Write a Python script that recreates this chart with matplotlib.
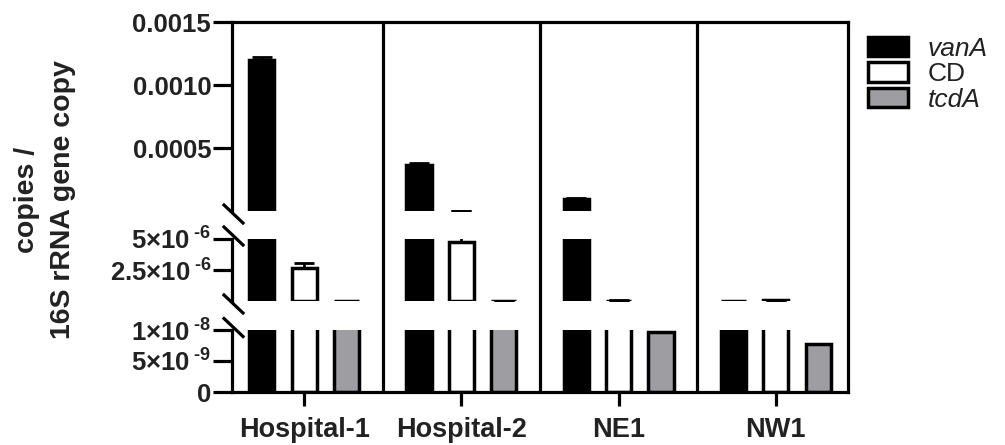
import matplotlib
matplotlib.use('Agg')
import matplotlib.pyplot as plt
from matplotlib.patches import Patch
from matplotlib.lines import Line2D
import numpy as np

# ---------------- data ----------------
groups = ['Hospital-1', 'Hospital-2', 'NE1', 'NW1']
series = ['vanA', 'CD', 'tcdA']
vanA = [1.20e-3, 3.66e-4, 1.0e-4, 2.0e-8]
vanA_err = [2.2e-5, 2.0e-5, 5e-6, 0.0]
CD = [2.65e-6, 4.75e-6, 5.0e-8, 6.0e-8]
CD_err = [4.5e-7, 4.5e-7, 2.5e-8, 3.5e-8]
tcdA = [2.0e-8, 2.0e-8, 9.6e-9, 7.7e-9]
tcdA_err = [0.0, 1.0e-8, 0.0, 0.0]

# y segments (bottom -> top): limits, ticks, tick labels
seg_limits = [(0, 1e-8), (1e-8, 5e-6), (5e-6, 1.5e-3)]
seg_ticks = [[0, 5e-9, 1e-8], [2.5e-6, 5e-6], [5e-4, 1e-3, 1.5e-3]]
seg_ticklabels = [['0', r'$5×10^{\;\text{-9}}$', r'$1×10^{\;\text{-8}}$'],
                  [r'$2.5×10^{\;\text{-6}}$', r'$5×10^{\;\text{-6}}$'],
                  ['0.0005', '0.0010', '0.0015']]

# ---------------- style ----------------
plt.rcParams['font.family'] = ['Liberation Sans', 'DejaVu Sans']
plt.rcParams['mathtext.fontset'] = 'custom'
plt.rcParams['mathtext.rm'] = 'Liberation Sans:bold'
plt.rcParams['mathtext.it'] = 'Liberation Sans:bold:italic'
plt.rcParams['mathtext.bf'] = 'Liberation Sans:bold'

colors = ['#000000', '#ffffff', '#9e9ea2']
values = [vanA, CD, tcdA]
errors = [vanA_err, CD_err, tcdA_err]
txtcol = '#222222'
LW = 2.3

W, H = 1005, 445
fig = plt.figure(figsize=(W / 100, H / 100), dpi=100)


def fx(px):
    return px / W


def fy(py):
    return 1 - py / H


left_px, right_px = 232, 848
seg_px = [(330, 392), (239, 301), (22, 211)]  # (top, bottom) pixel rows
xlim = (-0.46, 3.46)
x = np.arange(len(groups))
offsets = [-0.27, 0.0, 0.27]
bw = 0.16

# background frame
axf = fig.add_axes([fx(left_px), fy(392), fx(right_px) - fx(left_px), fy(22) - fy(392)])
axf.set_xlim(*xlim)
axf.set_ylim(0, 1)
axf.patch.set_facecolor('none')
for s in ['left', 'bottom']:
    axf.spines[s].set_visible(False)
for s in ['top', 'right']:
    axf.spines[s].set_linewidth(LW)
axf.set_xticks([])
axf.set_yticks([])
for sep in [0.5, 1.5, 2.5]:
    axf.axvline(sep, color='black', lw=LW)

axes = []
for i, (lim, ticks, tl, (ptop, pbot)) in enumerate(zip(seg_limits, seg_ticks, seg_ticklabels, seg_px)):
    ax = fig.add_axes([fx(left_px), fy(pbot), fx(right_px) - fx(left_px), fy(ptop) - fy(pbot)])
    ax.patch.set_facecolor('none')
    ax.set_xlim(*xlim)
    ax.set_ylim(*lim)
    for s in ['top', 'right']:
        ax.spines[s].set_visible(False)
    ax.spines['left'].set_linewidth(LW)
    ax.spines['bottom'].set_linewidth(LW)
    if i != 0:
        ax.spines['bottom'].set_visible(False)
    for k in range(3):
        v = np.array(values[k])
        e = np.array(errors[k])
        xs = x + offsets[k]
        show = v > lim[0]
        if show.any():
            ax.bar(xs[show], v[show], width=bw, color=colors[k],
                   edgecolor='black', linewidth=2.5, zorder=2)
        m = (e > 0) & (v + e > lim[0])
        if m.any():
            ax.errorbar(xs[m], v[m], yerr=[np.zeros(m.sum()), e[m]],
                        fmt='none', ecolor='black', elinewidth=2, capsize=7,
                        capthick=2, zorder=3)
    ax.set_yticks(ticks)
    ax.set_yticklabels(tl, fontsize=18.5, fontweight='bold', color=txtcol)
    ax.tick_params(axis='y', length=13.5, width=LW, pad=1.5, direction='out')
    if i == 0:
        ax.set_xticks(x)
        ax.set_xticklabels(groups, fontsize=19.5, fontweight='bold', color=txtcol)
        ax.tick_params(axis='x', length=10, width=LW, pad=8, direction='out')
    else:
        ax.set_xticks([])
    axes.append(ax)

# break marks on the y axis
def slash(cy):
    fig.add_artist(Line2D([fx(left_px + 1.5 - 9.5), fx(left_px + 1.5 + 9.5)],
                          [fy(cy - 9), fy(cy + 9)], color='black', lw=LW))

slash(214)
slash(236)
slash(304)
slash(327.5)

# y label
fig.text(fx(45), fy(200), 'copies /\n16S rRNA gene copy', rotation=90,
         ha='center', va='center', fontsize=20.5, fontweight='bold',
         color=txtcol, linespacing=1.45, multialignment='center')

# legend
handles = [Patch(facecolor=c, edgecolor='black', linewidth=2.5) for c in colors]
leg = fig.legend(handles, series, loc='upper left',
                 bbox_to_anchor=(fx(868), fy(37)), frameon=False,
                 fontsize=19, handlelength=1.5, handleheight=0.75,
                 handletextpad=0.75, labelspacing=0.05, borderpad=0,
                 borderaxespad=0)
for t, st in zip(leg.get_texts(), ['italic', 'normal', 'italic']):
    t.set_fontstyle(st)
    t.set_color(txtcol)

fig.savefig('out.png', dpi=100)
